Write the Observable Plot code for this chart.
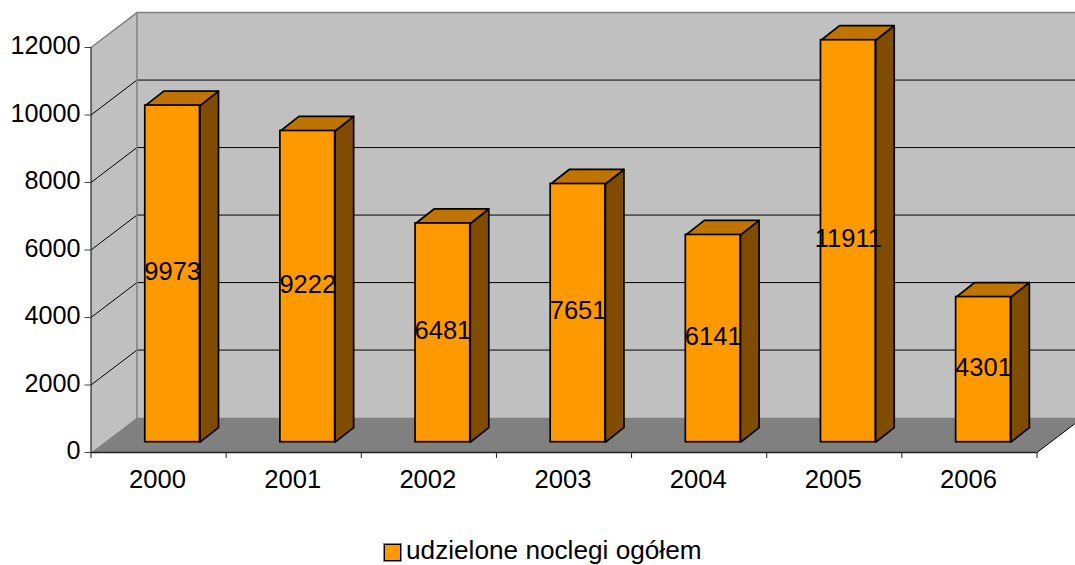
<!DOCTYPE html>
<html>
<head>
<meta charset="utf-8">
<script src="https://cdn.jsdelivr.net/npm/d3@7"></script>
<script src="https://cdn.jsdelivr.net/npm/@observablehq/plot@0.6"></script>
<style>
html,body{margin:0;padding:0;background:#fff;overflow:hidden}
svg{display:block}
#legend{position:relative;height:35px;font:26.2px "Liberation Sans",Arial,sans-serif;color:#000}
#legend i{position:absolute;left:384px;top:14px;width:15px;height:15px;background:#FF9900;border:1.5px solid #000;outline:1px solid #888}
#legend span{position:absolute;left:406px;top:5px;white-space:nowrap}
</style>
</head>
<body>
<div id="chart"></div>
<div id="legend"><i></i><span id="legend-text"></span></div>
<script>
const years = ["2000","2001","2002","2003","2004","2005","2006"];
const values = [9973,9222,6481,7651,6141,11911,4301];
const yTicks = [0,2000,4000,6000,8000,10000,12000];
const seriesName = "udzielone noclegi ogółem";
document.getElementById("legend-text").textContent = seriesName;

const font = '"Liberation Sans", Arial, sans-serif';
const depthX = 0.34, depthY = 1035;       // wall depth in scale units
const barDX = 0.137, barDY = 430;         // bar depth in scale units
const floorY = 305, barW = 0.405, barC = 0.604, n = years.length;
const poly = pts => pts.map(([x,y]) => ({x,y}));

const leftWall = poly([[0,0],[depthX,depthY],[depthX,12000+depthY],[0,12000],[0,0]]);
const backWall = poly([[depthX,depthY],[n+depthX,depthY],[n+depthX,12000+depthY],[depthX,12000+depthY],[depthX,depthY]]);
const floor = poly([[0,0],[n,0],[n+depthX,depthY],[depthX,depthY],[0,0]]);
const grid = yTicks.slice(1,-1).flatMap(v => [[0,v],[depthX,v+depthY],[n+depthX,v+depthY]].map(([x,y]) => ({x,y,v})));
const topEdge = poly([[0,12000],[depthX,12000+depthY],[n+depthX,12000+depthY]]);
const backEdge = poly([[depthX,depthY],[depthX,12000+depthY]]);
const rightEdge = poly([[n,0],[n+depthX,depthY]]);

const bars = values.map((v,i) => {
  const x1 = i + barC - barW/2, x2 = i + barC + barW/2, y1 = floorY, y2 = floorY + v;
  return {i,v,x1,x2,y1,y2,cx:i+barC,cy:floorY+v/2};
});
const side = bars.flatMap(b => poly([[b.x2,b.y1],[b.x2+barDX,b.y1+barDY],[b.x2+barDX,b.y2+barDY],[b.x2,b.y2],[b.x2,b.y1]]).map(p => ({...p,i:b.i})));
const top_ = bars.flatMap(b => poly([[b.x1,b.y2],[b.x2,b.y2],[b.x2+barDX,b.y2+barDY],[b.x1+barDX,b.y2+barDY],[b.x1,b.y2]]).map(p => ({...p,i:b.i})));
const xy = {x:"x",y:"y"};

const chart = Plot.plot({
  width:1075, height:530,
  marginLeft:90.5, marginRight:38.5, marginTop:47, marginBottom:78,
  style:{fontFamily:font, background:"#fff", overflow:"hidden"},
  x:{type:"linear", domain:[0,n], label:null},
  y:{type:"linear", domain:[0,12000], label:null},
  marks:[
    Plot.line(leftWall,{...xy,fill:"#C0C0C0",stroke:"none"}),
    Plot.line(backWall,{...xy,fill:"#C0C0C0",stroke:"none"}),
    Plot.line(floor,{...xy,fill:"#808080",stroke:"none"}),
    Plot.line(grid,{...xy,z:"v",stroke:"#000",strokeWidth:1}),
    Plot.line(topEdge,{...xy,stroke:"#808080",strokeWidth:1.5}),
    Plot.line(backEdge,{...xy,stroke:"#808080",strokeWidth:1.5}),
    Plot.line(rightEdge,{...xy,stroke:"#000",strokeWidth:1}),
    Plot.ruleX([0],{y1:0,y2:12000,stroke:"#000",strokeWidth:1}),
    Plot.ruleY([0],{x1:0,x2:n,stroke:"#222",strokeWidth:1.5}),
    Plot.line(side,{...xy,z:"i",fill:"#7F4C00",stroke:"#000",strokeWidth:1.7}),
    Plot.line(top_,{...xy,z:"i",fill:"#BF7300",stroke:"#000",strokeWidth:1.7}),
    Plot.rect(bars,{x1:"x1",x2:"x2",y1:"y1",y2:"y2",fill:"#FF9900",stroke:"#000",strokeWidth:1.7}),
    Plot.text(bars,{x:"cx",y:"cy",text:d=>String(d.v),fontSize:25.5,dy:-2,fill:"#000",fontFamily:font}),
    Plot.axisY({ticks:yTicks,tickSize:6,tickFormat:()=>"",label:null,stroke:"#444"}),
    Plot.axisY({ticks:yTicks,tickSize:0,tickPadding:10.5,dy:-1.5,fontSize:25.2,label:null,tickFormat:d=>String(d),fill:"#000",fontFamily:font}),
    Plot.axisX({ticks:d3.range(0,n+1),tickSize:6,tickFormat:()=>"",label:null,stroke:"#222"}),
    Plot.axisX({ticks:d3.range(0,n).map(i=>i+0.5),tickSize:0,tickPadding:17,dx:-1,fontSize:25.6,label:null,tickFormat:d=>years[d-0.5],fill:"#000",fontFamily:font})
  ]
});
document.getElementById("chart").appendChild(chart);
</script>
</body>
</html>
